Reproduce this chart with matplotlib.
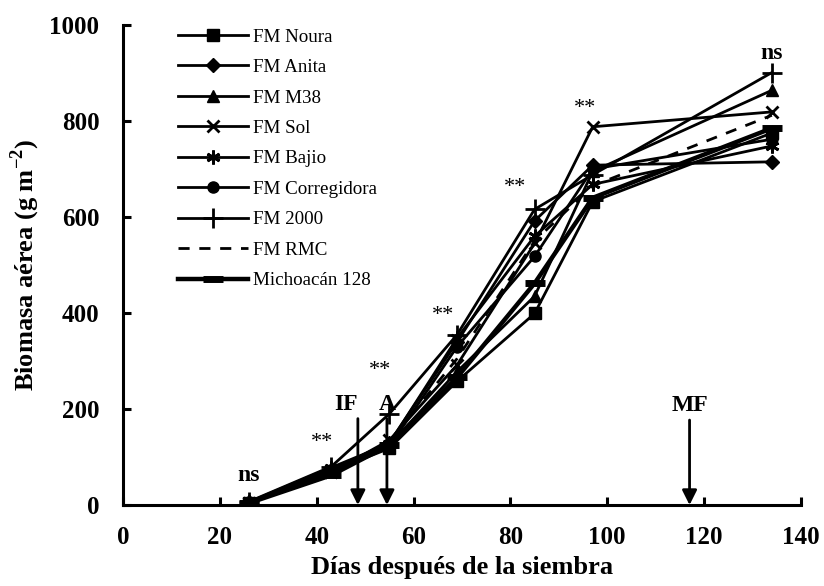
import matplotlib
matplotlib.use("Agg")
import matplotlib.pyplot as plt

plt.rcParams['font.family'] = ['Liberation Serif', 'DejaVu Serif']
plt.rcParams['mathtext.fontset'] = 'custom'
plt.rcParams['mathtext.rm'] = 'Liberation Serif:bold'
plt.rcParams['mathtext.bf'] = 'Liberation Serif:bold'

# Sampling days after sowing
dias = [26, 43, 55, 69, 85, 97, 134]

# Above-ground biomass (g m-2) per cultivar
fm_noura = [5, 70, 118, 258, 399, 632, 775]
fm_anita = [6, 72, 130, 340, 592, 708, 715]
fm_m38 = [4, 75, 125, 278, 435, 695, 864]
fm_sol = [5, 68, 135, 292, 545, 788, 819]
fm_bajio = [6, 78, 128, 348, 560, 668, 748]
fm_corregidora = [5, 70, 122, 330, 518, 700, 762]
fm_2000 = [7, 80, 190, 355, 616, 688, 901]
fm_rmc = [5, 65, 132, 305, 550, 665, 812]
michoacan_128 = [4, 62, 125, 266, 462, 640, 785]

nombres = ['FM Noura', 'FM Anita', 'FM M38', 'FM Sol', 'FM Bajio',
           'FM Corregidora', 'FM 2000', 'FM RMC', 'Michoacán 128']

# Significance labels above each sampling date
signif = ['ns', '**', '**', '**', '**', '**', 'ns']

# Phenological stages marked with arrows
etapas = ['IF', 'A', 'MF']
dias_etapa = [48.5, 54.5, 117]

fig = plt.figure(figsize=(8.24, 5.86), dpi=100)
ax = fig.add_axes([0.1493, 0.1382, 0.8227, 0.8191])

series = [fm_noura, fm_anita, fm_m38, fm_sol, fm_bajio, fm_corregidora,
          fm_2000, fm_rmc, michoacan_128]
estilos = [
    dict(marker='s', ms=9),
    dict(marker='D', ms=7),
    dict(marker='^', ms=9),
    dict(marker='x', ms=9, mew=2),
    dict(marker=(6, 2, 0), ms=10, mew=2),
    dict(marker='o', ms=8),
    dict(marker='+', ms=14, mew=2),
    dict(marker=None, ls=(0, (4, 3.5))),
    dict(marker='_', ms=14, mew=5, lw=3.2),
]
for y, nombre, est in zip(series, nombres, estilos):
    kw = dict(color='black', lw=2.0, mfc='black', mec='black')
    kw.update(est)
    ax.plot(dias, y, label=nombre, **kw)

ax.set_xlim(0, 140)
ax.set_ylim(0, 1000)
ax.set_xticks(range(0, 141, 20))
ax.set_yticks(range(0, 1001, 200))
for s in ['top', 'right']:
    ax.spines[s].set_visible(False)
for s in ['left', 'bottom']:
    ax.spines[s].set_linewidth(2.2)
ax.tick_params(direction='in', length=6, width=2.2, labelsize=18)
ax.tick_params(axis='y', pad=17)
ax.tick_params(axis='x', pad=15)
for lab in ax.get_xticklabels() + ax.get_yticklabels():
    lab.set_fontweight('bold')

ax.set_xlabel('Días después de la siembra', fontsize=19, fontweight='bold', labelpad=5)
ax.set_ylabel(r'Biomasa aérea (g m$^{-2}$)', fontsize=19, fontweight='bold', labelpad=5)

# Significance marks
maximos = [max(v) for v in zip(*series)]
offs = [55, 50, 90, 40, 45, 38, 40]
xoff = [0, -2, -2, -3, -4, -1.5, 0]
for d, m, s, o, xo in zip(dias, maximos, signif, offs, xoff):
    if s == 'ns':
        ax.text(d + xo, m + o, s, ha='center', va='center', fontsize=17, fontweight='bold')
    else:
        ax.text(d + xo, m + o, s, ha='center', va='center', fontsize=16)

# Stage arrows
tops = [180, 180, 177]
for e, d, t in zip(etapas, dias_etapa, tops):
    ax.annotate('', xy=(d, 0), xytext=(d, t),
                arrowprops=dict(arrowstyle='-|>', color='black', lw=2,
                                mutation_scale=22, shrinkA=0, shrinkB=0))
    ax.text(d - (2.5 if e == 'IF' else 0), t + 30, e, ha='center', va='center',
            fontsize=17, fontweight='bold')

leg = ax.legend(loc='upper left', bbox_to_anchor=(0.081, 0.993), frameon=False,
                fontsize=13.7, handlelength=3.7, handletextpad=0.26,
                labelspacing=0.69, borderaxespad=0.0, borderpad=0.0)

fig.savefig('out.png', dpi=100)
